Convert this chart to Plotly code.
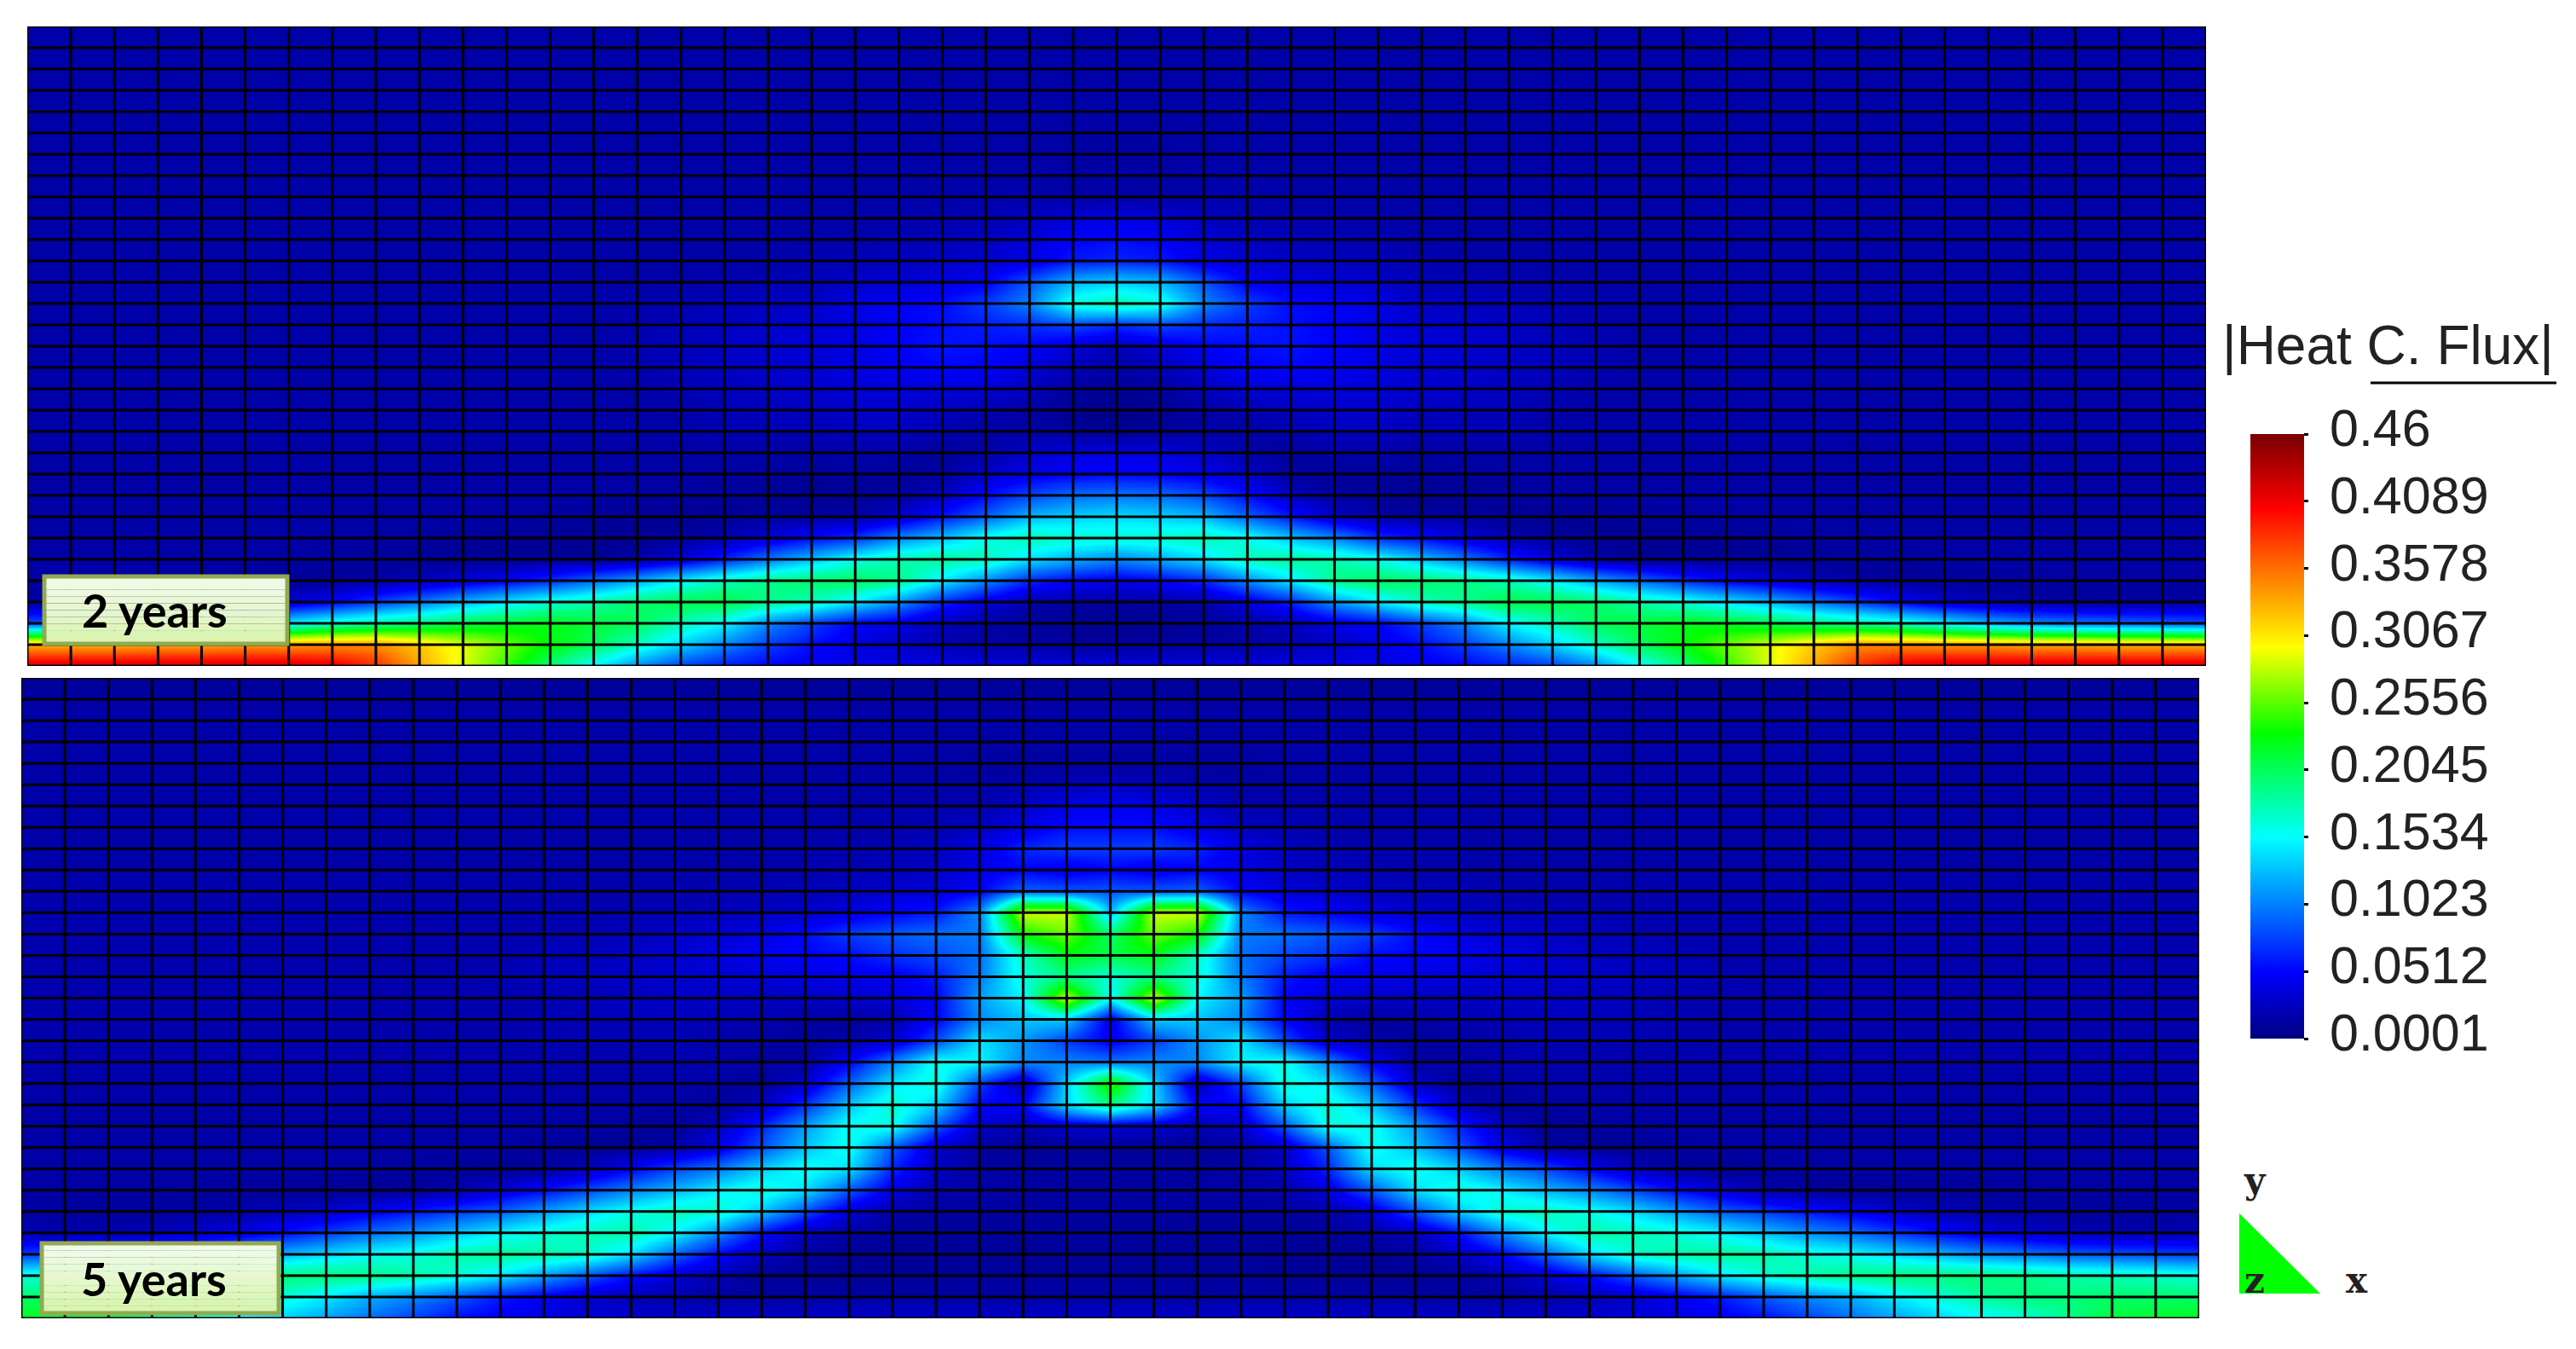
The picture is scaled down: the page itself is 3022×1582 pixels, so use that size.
import numpy as np
import plotly.graph_objects as go

W, H = 3022, 1582

# Nodal |heat flux| x 1000. Row 0 is the top of the mesh,
# each row runs from the left edge to the centre column (the field is symmetric).
flux_2y = [
    [16,16,16,16,16,16,16,16,16,16,16,16,16,16,16,16,16,16,16,16,16,16,16,16,16,16],
    [16,16,16,16,16,16,16,16,16,16,16,16,16,16,16,16,16,16,16,16,16,16,16,16,16,16],
    [16,16,16,16,16,16,16,16,16,16,16,16,16,16,16,16,16,16,16,16,16,16,16,16,16,16],
    [16,16,16,16,16,16,16,16,16,16,16,16,16,16,16,16,16,16,16,16,16,16,16,16,16,16],
    [16,16,16,16,16,16,16,16,16,16,16,16,16,16,16,16,16,16,16,16,16,16,16,16,16,16],
    [16,16,16,16,16,16,16,16,16,16,16,16,16,16,16,16,16,16,16,16,16,16,16,15,14,14],
    [16,16,16,16,16,16,16,16,16,16,16,16,16,16,16,16,16,16,16,16,16,16,16,15,12,12],
    [16,16,16,16,16,16,16,16,16,16,16,16,16,16,16,16,16,16,16,16,16,16,16,16,14,16],
    [16,16,16,16,16,16,16,16,16,16,16,16,16,16,16,16,16,16,16,16,16,16,17,18,14,14],
    [16,16,16,16,16,16,16,16,16,16,16,16,16,16,16,16,16,16,16,16,17,18,20,25,35,40],
    [16,16,16,16,16,16,16,16,16,16,16,16,16,16,16,16,16,16,16,18,20,22,25,35,50,55],
    [16,16,16,16,16,16,16,16,16,16,16,16,16,16,16,16,16,16,20,22,25,28,32,40,60,65],
    [16,16,16,16,16,16,16,16,16,16,16,16,16,16,16,16,18,20,22,28,32,38,48,85,125,135],
    [16,16,16,16,16,16,16,16,16,16,16,16,16,16,17,19,22,25,28,40,48,55,75,105,165,180],
    [16,16,16,16,16,16,16,16,16,16,16,16,16,16,18,22,27,30,33,38,48,55,62,68,80,70],
    [16,16,16,16,16,16,16,16,16,16,16,16,16,16,19,23,27,31,35,40,50,58,55,50,35,22],
    [16,16,16,16,16,16,16,16,16,16,16,16,16,16,19,23,27,30,33,38,45,52,50,35,22,15],
    [16,16,16,16,16,16,16,16,16,16,16,16,16,16,16,20,25,28,30,35,36,35,35,25,12,8],
    [16,16,16,16,16,16,16,16,16,16,16,16,16,16,16,16,22,24,26,30,30,26,20,14,6,3],
    [16,16,16,16,16,16,16,16,16,16,16,16,16,16,16,16,19,20,20,24,24,18,12,15,10,6],
    [15,15,15,15,15,15,15,15,15,15,15,15,15,15,15,15,15,15,14,16,15,10,15,30,38,40],
    [15,15,15,15,15,15,15,15,15,15,15,15,15,15,15,15,13,12,10,12,10,12,30,42,50,52],
    [15,15,15,15,15,15,15,15,15,15,15,15,15,14,13,12,10,8,6,8,10,25,55,80,95,100],
    [15,15,15,15,15,15,15,15,15,15,15,14,12,10,8,7,8,12,12,15,30,60,90,125,135,140],
    [15,15,15,15,15,15,15,15,14,12,10,8,7,6,7,10,18,35,55,70,105,130,160,178,168,165],
    [15,15,15,15,15,15,13,11,10,8,7,6,8,7,15,35,65,100,130,160,178,185,175,140,120,105],
    [14,14,14,13,12,10,9,8,14,22,35,50,70,95,120,150,175,190,200,205,190,145,105,65,50,42],
    [12,10,10,10,12,20,30,50,75,100,125,145,165,180,200,210,212,190,175,145,110,65,38,18,13,12],
    [85,90,95,100,110,125,150,170,185,195,210,220,225,215,205,175,150,105,75,50,40,22,14,10,7,5],
    [330,330,330,335,335,340,340,345,345,320,290,260,230,205,170,135,105,75,55,38,28,20,15,14,12,12],
    [425,425,425,425,425,425,425,415,385,335,290,245,195,150,105,75,60,50,45,42,40,40,38,38,36,35],
]

flux_5y = [
    [8,8,8,8,8,8,8,8,8,8,8,8,8,8,8,8,8,8,8,8,8,8,8,8,8,8],
    [14,14,14,14,14,14,14,14,14,14,14,14,14,14,14,14,14,14,14,14,14,14,14,14,14,14],
    [16,16,16,16,16,16,16,16,16,16,16,16,16,16,16,16,16,16,16,16,16,16,16,16,16,16],
    [16,16,16,16,16,16,16,16,16,16,16,16,16,16,16,16,16,16,16,16,16,16,15,15,15,15],
    [16,16,16,16,16,16,16,16,16,16,16,16,16,16,16,16,16,16,16,16,16,14,12,12,12,11],
    [16,16,16,16,16,16,16,16,16,16,16,16,16,16,16,16,16,15,15,15,15,14,14,18,22,25],
    [16,16,16,16,16,16,16,16,16,16,16,16,16,16,16,16,16,16,16,16,17,18,18,28,40,45],
    [16,16,16,16,16,16,16,16,16,16,16,16,16,16,16,16,16,16,16,16,16,20,25,40,55,55],
    [16,16,16,16,16,16,16,16,16,16,16,16,16,16,16,16,16,16,18,18,20,25,40,65,75,75],
    [16,16,16,16,16,16,16,16,16,16,16,16,16,16,16,16,16,16,18,20,22,28,40,50,40,50],
    [17,17,17,17,17,17,17,17,17,17,17,17,17,17,17,17,18,20,22,25,30,35,50,90,85,85],
    [17,17,17,17,17,17,17,17,17,17,17,17,17,17,18,20,22,25,28,38,50,60,105,285,285,125],
    [18,18,18,18,18,18,18,18,18,18,18,18,18,20,24,28,33,40,55,75,85,95,100,235,260,200],
    [18,18,18,18,18,18,18,18,18,18,18,18,22,25,28,32,38,45,50,55,70,80,95,170,225,210],
    [17,17,17,17,17,17,17,17,17,17,17,20,22,25,28,30,32,35,38,42,45,60,100,165,190,165],
    [18,18,18,18,18,18,18,18,18,18,18,18,18,22,25,27,27,25,27,30,35,50,115,150,285,150],
    [17,17,17,17,17,17,17,17,17,17,17,17,20,22,24,24,22,20,14,10,18,50,105,130,130,40],
    [17,17,17,17,17,17,17,17,17,17,17,17,18,19,20,20,16,12,10,18,30,80,145,110,75,45],
    [17,17,17,17,17,17,17,17,17,17,17,17,17,17,17,17,19,15,15,50,105,160,150,105,105,100],
    [16,16,16,16,16,16,16,16,16,16,16,16,16,16,16,16,14,9,30,90,145,165,75,18,135,250],
    [15,15,15,15,15,15,15,15,15,15,15,15,15,15,15,13,9,25,70,130,170,135,50,50,140,190],
    [15,15,15,15,15,15,15,15,15,15,15,15,15,14,12,9,25,65,115,160,160,85,30,20,30,32],
    [15,15,15,15,15,15,15,15,15,15,15,14,11,8,7,14,40,85,130,160,85,30,12,8,8,8],
    [15,15,15,15,15,15,15,15,14,12,9,7,10,25,50,80,100,135,160,140,65,25,14,12,12,12],
    [14,14,14,13,12,11,10,8,7,10,18,35,55,80,105,125,150,165,140,85,40,18,15,14,13,13],
    [12,11,10,10,13,15,22,30,45,60,75,90,115,140,160,175,170,130,80,35,15,12,12,12,12,12],
    [20,18,18,22,30,40,55,75,95,110,130,150,165,175,180,150,105,55,22,14,9,9,10,10,10,10],
    [75,80,85,90,100,110,125,140,155,165,180,185,180,170,140,90,50,25,12,8,8,9,10,10,10,10],
    [165,170,175,180,190,195,195,195,190,180,165,145,115,85,55,35,20,10,8,8,9,9,10,10,10,10],
    [200,200,200,195,195,185,165,145,120,105,85,60,45,30,20,15,12,12,13,14,14,14,14,14,14,14],
    [225,220,215,190,165,150,135,115,95,75,55,45,38,35,32,30,30,30,30,30,30,30,30,30,30,30],
]

tick_vals = [0.0001, 0.0512, 0.1023, 0.1534, 0.2045, 0.2556, 0.3067, 0.3578, 0.4089, 0.46]
tick_text = ["0.0001", "0.0512", "0.1023", "0.1534", "0.2045", "0.2556", "0.3067", "0.3578", "0.4089", "0.46"]

colorscale = [
    [0, "rgb(0,0,130)"],
    [0.11, "rgb(0,0,255)"],
    [0.333, "rgb(0,255,255)"],
    [0.505, "rgb(0,255,0)"],
    [0.647, "rgb(255,255,0)"],
    [0.877, "rgb(255,0,0)"],
    [1, "rgb(120,0,0)"],
]

# legend bar position in pixels
BAR_TOP, BAR_BOTTOM = 509, 1218


def full_field(half):
    # mirror about the centre column
    return np.array([row + row[-2::-1] for row in half]) / 1000


def px(x):
    return x / W


def py(y):
    return 1 - y / H


# mesh lines, one per element boundary
mesh_x, mesh_y = [], []
for c in range(51):
    mesh_x += [c, c, None]
    mesh_y += [0, 30, None]
for r in range(31):
    mesh_x += [0, 50, None]
    mesh_y += [r, r, None]

fig = go.Figure()

panels = [
    (flux_2y, "x", "y", "xaxis", "yaxis", 32, 2588, 31, 781),
    (flux_5y, "x2", "y2", "xaxis2", "yaxis2", 25, 2580, 795, 1546),
]
for field, xa, ya, xname, yname, left, right, top, bottom in panels:
    fig.add_trace(go.Heatmap(z=full_field(field), x=list(range(51)), y=list(range(31)),
                             zsmooth="best", coloraxis="coloraxis", xaxis=xa, yaxis=ya,
                             hoverinfo="skip"))
    fig.add_trace(go.Scatter(x=mesh_x, y=mesh_y, mode="lines", xaxis=xa, yaxis=ya,
                             line=dict(color="black", width=3), cliponaxis=False,
                             showlegend=False, hoverinfo="skip"))
    fig.update_layout({
        xname: dict(domain=[px(left), px(right)], range=[0, 50], visible=False, anchor=ya),
        yname: dict(domain=[py(bottom), py(top)], range=[30, 0], visible=False, anchor=xa),
    })

# time labels, the pale green fill fades towards the bottom
for text, x0, x1, y0, y1, pad in [("2 years", 52, 337, 676, 755, 42), ("5 years", 49, 327, 1458, 1540, 44)]:
    strips = 10
    for s in range(strips):
        t = s / (strips - 1)
        fill = f"rgb({int(243 - 24 * t)},{int(251 - 8 * t)},{int(232 - 56 * t)})"
        fig.add_shape(type="rect", xref="paper", yref="paper", x0=px(x0), x1=px(x1),
                      y0=py(y0 + (y1 - y0) * (s + 1) / strips), y1=py(y0 + (y1 - y0) * s / strips),
                      fillcolor=fill, line=dict(width=0), layer="above")
    fig.add_shape(type="rect", xref="paper", yref="paper", x0=px(x0), x1=px(x1), y0=py(y1), y1=py(y0),
                  line=dict(color="#93A952", width=5), layer="above")
    fig.add_annotation(text=f"<b>{text}</b>", xref="paper", yref="paper", x=px(x0 + pad), y=py((y0 + y1) / 2),
                       xanchor="left", yanchor="middle", showarrow=False,
                       font=dict(family="Lato", size=54, color="black"))

# legend title and the rule under it
fig.add_annotation(text="|Heat C. Flux|", xref="paper", yref="paper", x=px(2801), y=py(405),
                   xanchor="center", yanchor="middle", showarrow=False,
                   font=dict(family="Liberation Sans", size=64, color="#222222"))
fig.add_shape(type="line", xref="paper", yref="paper", x0=px(2781), x1=px(2999), y0=py(449), y1=py(449),
              line=dict(color="black", width=3))

# legend labels sit a little above their ticks
for val, label in zip(tick_vals, tick_text):
    tick_y = BAR_BOTTOM - (val - tick_vals[0]) / (tick_vals[-1] - tick_vals[0]) * (BAR_BOTTOM - BAR_TOP)
    fig.add_annotation(text=label, xref="paper", yref="paper", x=px(2731), y=py(tick_y - 7),
                       xanchor="left", yanchor="middle", showarrow=False,
                       font=dict(family="Liberation Sans", size=61, color="#222222"))

# axis triad
fig.add_shape(type="path", xref="paper", yref="paper",
              path=f"M {px(2627)} {py(1423)} L {px(2722)} {py(1517)} L {px(2627)} {py(1517)} Z",
              fillcolor="#00FF00", line=dict(width=0))
for text, x, y in [("y", 2645, 1384), ("z", 2645, 1501), ("x", 2765, 1501)]:
    fig.add_annotation(text=f"<b>{text}</b>", xref="paper", yref="paper", x=px(x), y=py(y),
                       xanchor="center", yanchor="middle", showarrow=False,
                       font=dict(family="DejaVu Serif", size=42, color="#222222"))

fig.update_layout(
    width=W, height=H,
    margin=dict(l=0, r=0, t=0, b=0),
    paper_bgcolor="white", plot_bgcolor="white",
    showlegend=False,
    coloraxis=dict(
        colorscale=colorscale, cmin=0.0001, cmax=0.46,
        colorbar=dict(
            x=px(2640), xanchor="left", xpad=0,
            y=py(BAR_TOP), yanchor="top", ypad=0,
            thickness=63, thicknessmode="pixels",
            len=BAR_BOTTOM - BAR_TOP, lenmode="pixels",
            outlinewidth=0,
            tickmode="array", tickvals=tick_vals, showticklabels=False,
            ticks="outside", ticklen=5, tickwidth=3, tickcolor="black",
        ),
    ),
)

fig.write_html("out.html", config=dict(displayModeBar=False),
               post_script="document.body.style.margin='0'")
